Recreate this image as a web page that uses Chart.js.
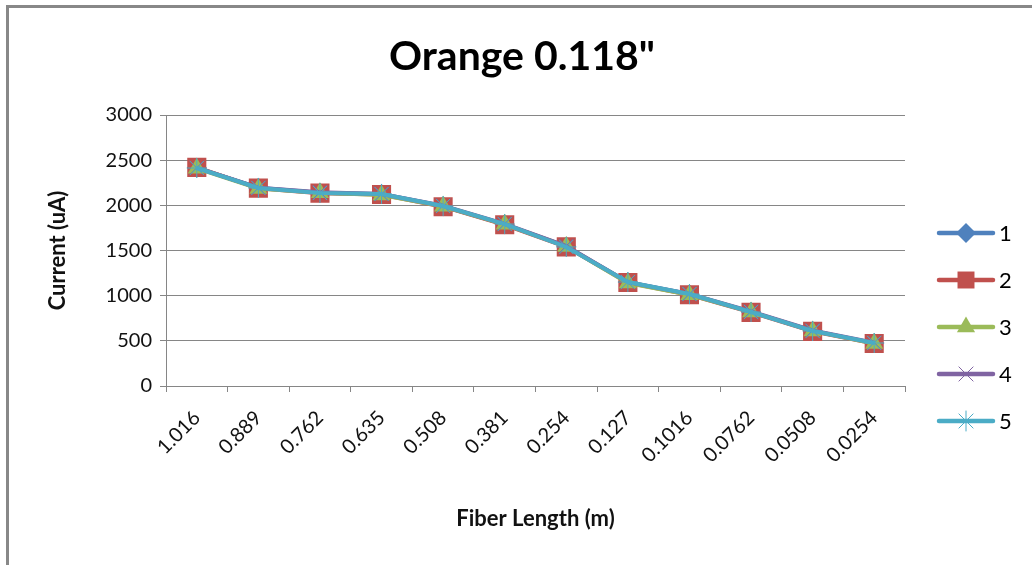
<!DOCTYPE html>
<html>
<head>
<meta charset="utf-8">
<script src="https://cdn.jsdelivr.net/npm/chart.js@4/dist/chart.umd.min.js"></script>
<style>
  html, body { margin: 0; padding: 0; background: #fff; overflow: hidden; }
  #wrap { position: relative; width: 1032px; height: 565px; }
  #frame {
    position: absolute; left: 6px; top: 5px; width: 1100px; height: 700px;
    border-top: 3px solid #888; border-left: 3px solid #888;
  }
  #chart { position: absolute; left: 0; top: 0; }
</style>
</head>
<body>
<div id="wrap">
  <div id="frame"></div>
  <canvas id="chart" width="1032" height="565"></canvas>
</div>
<script>
/*==================================================
DATA
==================================================*/

const lengths = ["1.016", "0.889", "0.762", "0.635", "0.508", "0.381", "0.254", "0.127", "0.1016", "0.0762", "0.0508", "0.0254"];

const run1 = [2415, 2195, 2140, 2125, 1990, 1790, 1545, 1150, 1015, 820, 610, 475];
const run2 = [2420, 2190, 2135, 2120, 1985, 1785, 1540, 1145, 1010, 815, 605, 470];
const run3 = [2410, 2185, 2140, 2115, 1990, 1790, 1545, 1140, 1010, 820, 610, 470];
const run4 = [2415, 2195, 2145, 2125, 1995, 1795, 1550, 1150, 1020, 825, 615, 480];
const run5 = [2413, 2192, 2137, 2126, 1993, 1793, 1539, 1151, 1018, 819, 609, 476];

const runNames = ["1", "2", "3", "4", "5"];

const yTicks = { min: 0, max: 3000, step: 500 };

const FONT = "Lato, 'Open Sans', sans-serif";

/*==================================================
SERIES STYLES
==================================================*/

const styles = [
    { color: "#4F81BD", point: "rectRot", radius: 10 },
    { color: "#C0504D", point: "rect", radius: 13.5 },
    { color: "#9BBB59", point: "triangle", radius: 10.5 },
    { color: "#8064A2", point: "crossRot", radius: 10 },
    { color: "#4BACC6", point: "star", radius: 10 }
];

function makeDataset(name, values, i) {

    const s = styles[i];

    return {

        label: name,

        data: values,

        borderColor: s.color,

        backgroundColor: s.color,

        borderWidth: 4,

        pointStyle: s.point,

        pointRadius: s.radius,

        pointBorderWidth: (s.point === "crossRot" || s.point === "star") ? 1 : 0,

        pointBorderColor: s.color,

        pointBackgroundColor: s.color,

        tension: 0,

        order: 5 - i

    };

}

/*==================================================
TITLE + LEGEND (drawn by hand)
==================================================*/

const chartDecor = {

    id: "chartDecor",

    afterDraw(chart) {

        const ctx = chart.ctx;

        ctx.save();

        ctx.fillStyle = "#000";
        ctx.font = "bold 41px " + FONT;
        ctx.textAlign = "center";
        ctx.textBaseline = "middle";
        ctx.fillText("Orange 0.118\"", 522, 57);

        // legend on the right: line sample, marker, label
        const x1 = 939, x2 = 993, top = 233, gap = 47;

        chart.data.datasets.forEach((ds, i) => {

            const y = top + i * gap;

            ctx.strokeStyle = ds.borderColor;
            ctx.lineWidth = 4.5;
            ctx.lineCap = "round";
            ctx.beginPath();
            ctx.moveTo(x1, y);
            ctx.lineTo(x2, y);
            ctx.stroke();

            ctx.fillStyle = ds.pointBackgroundColor;
            ctx.strokeStyle = ds.pointBorderColor;
            ctx.lineWidth = ds.pointBorderWidth || 1;

            Chart.helpers.drawPoint(ctx, {
                pointStyle: ds.pointStyle,
                radius: ds.pointStyle === "rect" ? 12 : ds.pointRadius,
                borderWidth: ds.pointBorderWidth,
                rotation: 0
            }, (x1 + x2) / 2, y);

            ctx.fillStyle = "#000";
            ctx.font = "22px " + FONT;
            ctx.textAlign = "left";
            ctx.textBaseline = "middle";
            ctx.fillText(ds.label, 999, y + 1);

        });

        ctx.restore();

    }

};

/*==================================================
CHART
==================================================*/

const series = [run1, run2, run3, run4, run5];

new Chart(document.getElementById("chart"), {

    type: "line",

    data: {

        labels: lengths,

        datasets: series.map((v, i) => makeDataset(runNames[i], v, i))

    },

    options: {

        responsive: false,

        animation: false,

        layout: {

            padding: { top: 115, left: 0, right: 127, bottom: 0 }

        },

        plugins: {

            legend: { display: false },

            title: { display: false },

            tooltip: { enabled: false }

        },

        scales: {

            x: {

                offset: true,

                afterFit: scale => { scale.height = 179; },

                grid: {

                    offset: true,

                    drawOnChartArea: false,

                    drawTicks: true,

                    tickLength: 6,

                    color: "#868686"

                },

                border: { color: "#868686", width: 1 },

                ticks: {

                    minRotation: 45,

                    maxRotation: 45,

                    padding: 14,

                    color: "#111",

                    font: { family: FONT, size: 20 }

                },

                title: {

                    display: true,

                    text: "Fiber Length (m)",

                    color: "#111",

                    font: { family: FONT, size: 22, weight: "bold" },

                    padding: { top: 0, bottom: 33 }

                }

            },

            y: {

                min: yTicks.min,

                max: yTicks.max,

                afterFit: scale => { scale.width = 166; },

                grid: {

                    color: "#868686",

                    lineWidth: 1,

                    tickLength: 6

                },

                border: { color: "#868686", width: 1 },

                ticks: {

                    stepSize: yTicks.step,

                    padding: 8,

                    color: "#111",

                    font: { family: FONT, size: 20 },

                    callback: v => String(v)

                },

                title: {

                    display: true,

                    text: "Current (uA)",

                    color: "#111",

                    font: { family: FONT, size: 22, weight: "bold" },

                    padding: { top: 45, bottom: 0 }

                }

            }

        }

    },

    plugins: [chartDecor]

});
</script>
</body>
</html>
